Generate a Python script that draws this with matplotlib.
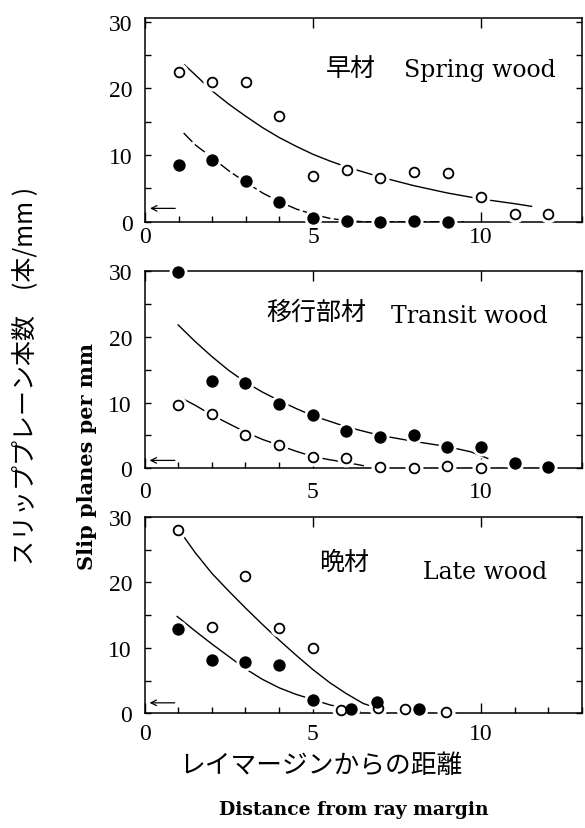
import matplotlib
matplotlib.use("Agg")
import matplotlib.pyplot as plt
from matplotlib.ticker import MultipleLocator, FixedLocator

# ---------------- data ----------------
# Spring wood (早材)
spring_open_x = [1, 2, 3, 4, 5, 6, 7, 8, 9, 10, 11, 12]
spring_open_y = [22.4, 20.9, 20.9, 15.8, 6.9, 7.8, 6.6, 7.4, 7.3, 3.7, 1.2, 1.2]
spring_filled_x = [1, 2, 3, 4, 5, 6, 7, 8, 9]
spring_filled_y = [8.5, 9.3, 6.1, 2.9, 0.6, 0.15, 0.0, 0.1, 0.0]
spring_fit_open_x = [1.18, 1.5, 2, 2.5, 3, 3.5, 4, 4.5, 5, 5.5, 6, 7, 8, 9, 10, 11, 11.5]
spring_fit_open_y = [23.5, 22.0, 19.6, 17.6, 15.8, 14.1, 12.6, 11.3, 10.1, 9.1, 8.2, 6.7, 5.4, 4.3, 3.4, 2.7, 2.3]
spring_fit_filled_x = [1.15, 1.5, 2, 2.5, 3, 3.5, 4, 4.5, 5, 5.5, 6, 6.5, 7, 8, 9, 9.5]
spring_fit_filled_y = [13.3, 11.5, 9.6, 7.6, 5.9, 4.3, 3.0, 1.9, 1.1, 0.5, 0.15, 0.0, 0.0, 0.0, 0.0, 0.0]

# Transit wood (移行部材)
transit_filled_x = [1, 2, 3, 4, 5, 6, 7, 8, 9, 10, 11, 12]
transit_filled_y = [29.8, 13.3, 13.0, 9.8, 8.1, 5.7, 4.7, 5.1, 3.3, 3.3, 0.8, 0.15]
transit_open_x = [1, 2, 3, 4, 5, 6, 7, 8, 9, 10]
transit_open_y = [9.6, 8.2, 5.1, 3.6, 1.7, 1.6, 0.15, 0.0, 0.4, 0.1]
transit_fit_filled_x = [1.0, 1.5, 2, 2.5, 3, 3.5, 4, 4.5, 5, 6, 7, 8, 9, 9.7, 10.2]
transit_fit_filled_y = [21.8, 19.3, 17.0, 14.9, 13.1, 11.6, 10.3, 9.1, 8.0, 6.3, 5.0, 4.1, 3.3, 2.5, 1.5]
transit_fit_open_x = [1.13, 1.5, 2, 2.5, 3, 3.5, 4, 4.5, 5, 5.5, 6, 6.5]
transit_fit_open_y = [10.6, 9.6, 8.1, 6.8, 5.5, 4.4, 3.5, 2.6, 1.8, 1.3, 0.9, 0.4]
transit_zero_x = [6.5, 12.4]

# Late wood (晩材)
late_open_x = [1, 2, 3, 4, 5, 5.85, 6.95, 7.75, 8.95]
late_open_y = [28.0, 13.2, 21.0, 13.1, 9.95, 0.5, 0.8, 0.6, 0.15]
late_filled_x = [1, 2, 3, 4, 5, 6.15, 6.9, 8.15]
late_filled_y = [12.9, 8.2, 7.9, 7.4, 2.1, 0.65, 1.8, 0.6]
late_fit_open_x = [1.18, 1.5, 2, 2.5, 3, 3.5, 4, 4.5, 5, 5.5, 6, 6.5, 6.8]
late_fit_open_y = [26.9, 24.6, 21.4, 18.7, 16.1, 13.6, 11.2, 8.9, 6.7, 4.7, 3.0, 1.5, 1.0]
late_fit_filled_x = [0.97, 1.5, 2, 2.5, 3, 3.5, 4, 4.5, 5, 5.5, 6, 6.4]
late_fit_filled_y = [14.8, 12.6, 10.6, 8.7, 6.8, 5.2, 3.9, 2.9, 2.1, 1.3, 0.7, 0.3]
late_zero_x = [6.4, 9.4]

x_ticks = [0, 5, 10]
y_ticks = [0, 10, 20, 30]
arrow_y = [2.0, 1.2, 1.6]

# ---------------- figure ----------------
W, H = 585, 829
fig = plt.figure(figsize=(W / 100, H / 100), dpi=100)
fig.patch.set_facecolor("white")

TICK_FONT = "Liberation Serif"
EN_FONT = "DejaVu Serif"
JP_FONT = ["Noto Sans CJK JP", "DejaVu Sans"]


def px_axes(left, top, right, bottom):
    return fig.add_axes([left / W, 1 - bottom / H, (right - left) / W, (bottom - top) / H])


ax1 = px_axes(145, 19.3, 582, 222.7)
ax2 = px_axes(144.5, 272, 582, 469.3)
ax3 = px_axes(144.5, 518, 582, 714.3)

MS = 7.0
MEW = 1.3
HALO = 13


def style_axes(ax, ytop, xpad, arr_y):
    ax.set_xlim(0, 13)
    ax.set_ylim(0, ytop)
    for s in ax.spines.values():
        s.set_linewidth(1.1)
    ax.xaxis.set_major_locator(FixedLocator(x_ticks))
    ax.xaxis.set_minor_locator(MultipleLocator(1))
    ax.yaxis.set_major_locator(FixedLocator(y_ticks))
    ax.yaxis.set_minor_locator(MultipleLocator(5))
    ax.tick_params(axis="x", which="major", direction="in", length=7, width=1,
                   top=True, bottom=True, labelsize=17, pad=xpad)
    ax.tick_params(axis="x", which="minor", direction="in", length=4.5, width=1,
                   top=False, bottom=True)
    ax.tick_params(axis="y", which="both", direction="in", length=4.5, width=1,
                   left=True, right=True, labelsize=17, pad=9)
    for lab in ax.get_xticklabels() + ax.get_yticklabels():
        lab.set_fontfamily(TICK_FONT)
    ax.annotate("", xy=(0.15, arr_y), xytext=(0.9, arr_y),
                arrowprops=dict(arrowstyle="->", lw=0.9, shrinkA=0, shrinkB=0,
                                mutation_scale=10, color="black"))


def draw_points(ax, ox, oy, fx, fy):
    ax.plot(ox, oy, "o", ms=HALO, mfc="white", mec="white", mew=0, zorder=3, clip_on=False)
    ax.plot(fx, fy, "o", ms=HALO, mfc="white", mec="white", mew=0, zorder=3, clip_on=False)
    ax.plot(ox, oy, "o", ms=MS, mfc="white", mec="black", mew=MEW, zorder=4, clip_on=False)
    ax.plot(fx, fy, "o", ms=MS + 0.6, mfc="black", mec="black", mew=MEW, zorder=4, clip_on=False)


LW = 1.0
# ---- Spring wood ----
style_axes(ax1, 30.5, 3, arrow_y[0])
ax1.plot(spring_fit_open_x, spring_fit_open_y, "-", color="black", lw=LW, zorder=2)
ax1.plot(spring_fit_filled_x, spring_fit_filled_y, color="black", lw=LW, zorder=2,
         linestyle=(0, (9, 2.5)))
draw_points(ax1, spring_open_x, spring_open_y, spring_filled_x, spring_filled_y)
ax1.text(5.38, 23.0, "早材", family=JP_FONT, fontsize=18, va="center", ha="left")
ax1.text(7.69, 21.8, "Spring wood", family=EN_FONT, fontsize=17, va="baseline", ha="left")

# ---- Transit wood ----
style_axes(ax2, 30, 9, arrow_y[1])
ax2.plot(transit_fit_filled_x, transit_fit_filled_y, "-", color="black", lw=LW, zorder=2)
ax2.plot(transit_fit_open_x, transit_fit_open_y, "-", color="black", lw=LW, zorder=2)
ax2.plot(transit_zero_x, [0, 0], color="black", lw=LW, zorder=2, linestyle=(0, (5, 3)))
draw_points(ax2, transit_open_x, transit_open_y, transit_filled_x, transit_filled_y)
ax2.text(3.61, 23.8, "移行部材", family=JP_FONT, fontsize=18, va="center", ha="left")
ax2.text(7.31, 22.25, "Transit wood", family=EN_FONT, fontsize=17, va="baseline", ha="left")

# ---- Late wood ----
style_axes(ax3, 30, 7, arrow_y[2])
ax3.plot(late_fit_open_x, late_fit_open_y, "-", color="black", lw=LW, zorder=2)
ax3.plot(late_fit_filled_x, late_fit_filled_y, "-", color="black", lw=LW, zorder=2)
ax3.plot(late_zero_x, [0, 0], color="black", lw=LW, zorder=2, linestyle=(0, (5, 3)))
draw_points(ax3, late_open_x, late_open_y, late_filled_x, late_filled_y)
ax3.text(5.18, 23.2, "晩材", family=JP_FONT, fontsize=18, va="center", ha="left")
ax3.text(8.28, 20.7, "Late wood", family=EN_FONT, fontsize=17, va="baseline", ha="left")

# ---- axis titles ----
fig.text(25 / W, 1 - 376 / H, "スリッププレーン本数　(本/mm )", family=JP_FONT,
         fontsize=18, rotation=90, ha="center", va="center")
fig.text(87 / W, 1 - 457 / H, "Slip planes per mm", family=EN_FONT, fontweight="bold",
         fontsize=15, rotation=90, ha="center", va="center")
fig.text(321 / W, 1 - 766 / H, "レイマージンからの距離", family=JP_FONT,
         fontsize=18.5, ha="center", va="center")
fig.text(354 / W, 1 - 810 / H, "Distance from ray margin", family=EN_FONT,
         fontweight="bold", fontsize=13.5, ha="center", va="center")

fig.savefig("out.png", dpi=100, facecolor="white")
